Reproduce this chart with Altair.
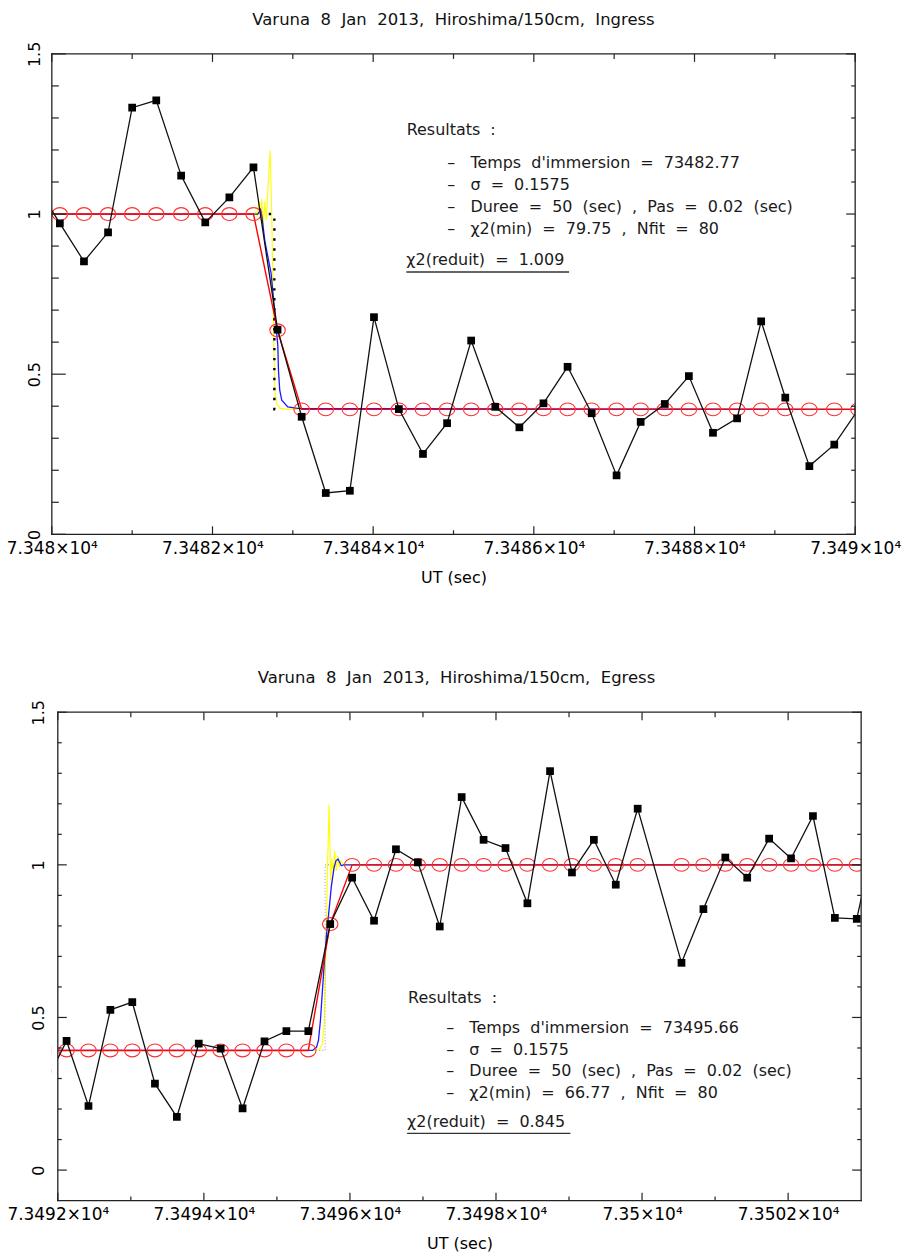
import altair as alt
import pandas as pd

FONT = "DejaVu Sans"
NB = "\u00a0"
FRAME = "#222222"

# ---------------- Ingress ----------------
ing_t = [73479.80, 73480.10, 73480.40, 73480.70, 73481.00, 73481.30, 73481.61,
         73481.91, 73482.21, 73482.51, 73482.81, 73483.11, 73483.41, 73483.71,
         73484.01, 73484.32, 73484.62, 73484.92, 73485.22, 73485.52, 73485.82,
         73486.12, 73486.42, 73486.72, 73487.03, 73487.33, 73487.63, 73487.93,
         73488.23, 73488.53, 73488.83, 73489.13, 73489.43, 73489.74, 73490.04]
ing_flux = [1.09, 0.971, 0.852, 0.943, 1.332, 1.355, 1.120, 0.974, 1.052, 1.146,
            0.639, 0.367, 0.129, 0.136, 0.678, 0.391, 0.251, 0.347, 0.605, 0.398,
            0.334, 0.409, 0.523, 0.378, 0.184, 0.351, 0.407, 0.494, 0.317, 0.362,
            0.665, 0.427, 0.213, 0.280, 0.39]
ing_model = [1.0, 1.0, 1.0, 1.0, 1.0, 1.0, 1.0, 1.0, 1.0, 1.0,
             0.637, 0.39, 0.39, 0.39, 0.39, 0.39, 0.39, 0.39, 0.39, 0.39,
             0.39, 0.39, 0.39, 0.39, 0.39, 0.39, 0.39, 0.39, 0.39, 0.39,
             0.39, 0.39, 0.39, 0.39, 0.39]
# monochromatic diffraction profile
ing_yel_t = [73480.0, 73482.50, 73482.54, 73482.558, 73482.577, 73482.596, 73482.614,
             73482.633, 73482.651, 73482.670, 73482.689, 73482.717, 73482.738,
             73482.757, 73482.775, 73482.80, 73482.837, 73482.936, 73490.0]
ing_yel_v = [1.0, 1.0, 1.008, 0.992, 1.042, 0.984, 1.048, 0.960, 1.039, 0.981, 1.073,
             1.198, 0.995, 0.699, 0.450, 0.407, 0.394, 0.39, 0.39]
# smoothed profile (bandwidth + stellar diameter)
ing_blu_t = [73480.0, 73482.565, 73482.598, 73482.614, 73482.651, 73482.730, 73482.792,
             73482.813, 73482.821, 73482.837, 73482.862, 73482.937, 73483.061, 73490.0]
ing_blu_v = [1.0, 1.0, 1.014, 0.995, 0.917, 0.814, 0.647, 0.590, 0.513, 0.450, 0.419,
             0.398, 0.393, 0.39]
# geometric square-well profile
ing_geo_t = [73482.70, 73482.77, 73482.77, 73482.85]
ing_geo_v = [1.0, 1.0, 0.39, 0.39]
ing_text = ["Resultats :",
            "Temps d'immersion = 73482.77",
            "σ = 0.1575",
            "Duree = 50 (sec) , Pas = 0.02 (sec)",
            "χ2(min) = 79.75 , Nfit = 80",
            "χ2(reduit) = 1.009"]
ing_text_t = [73484.417, 73484.922, 73484.922, 73484.922, 73484.922, 73484.413]
ing_text_v = [1.262, 1.158, 1.092, 1.021, 0.954, 0.857]
ing_uline = [73484.413, 73486.439, 0.819]

# ---------------- Egress ----------------
egr_t = [73491.82, 73492.12, 73492.42, 73492.72, 73493.02, 73493.33, 73493.63,
         73493.93, 73494.23, 73494.53, 73494.83, 73495.13, 73495.43, 73495.73,
         73496.03, 73496.33, 73496.63, 73496.93, 73497.23, 73497.53, 73497.83,
         73498.13, 73498.43, 73498.74, 73499.04, 73499.34, 73499.64, 73499.94,
         73500.54, 73500.84, 73501.14, 73501.44, 73501.74, 73502.04, 73502.34,
         73502.64, 73502.94, 73503.24]
egr_flux = [0.28, 0.423, 0.210, 0.525, 0.550, 0.283, 0.174, 0.414, 0.398, 0.202,
            0.422, 0.455, 0.455, 0.806, 0.958, 0.817, 1.051, 1.008, 0.798, 1.222,
            1.082, 1.055, 0.874, 1.307, 0.975, 1.082, 0.935, 1.184, 0.679, 0.855,
            1.024, 0.958, 1.086, 1.021, 1.160, 0.826, 0.823, 1.15]
egr_model = [0.392, 0.392, 0.392, 0.392, 0.392, 0.392, 0.392, 0.392, 0.392, 0.392,
             0.392, 0.392, 0.392, 0.806, 1.0, 1.0, 1.0, 1.0, 1.0, 1.0,
             1.0, 1.0, 1.0, 1.0, 1.0, 1.0, 1.0, 1.0, 1.0, 1.0,
             1.0, 1.0, 1.0, 1.0, 1.0, 1.0, 1.0, 1.0]
egr_yel_t = [73492.0, 73495.528, 73495.582, 73495.623, 73495.650, 73495.671, 73495.692,
             73495.715, 73495.735, 73495.753, 73495.771, 73495.791, 73495.812,
             73495.832, 73495.852, 73495.876, 73495.919, 73503.0]
egr_yel_v = [0.392, 0.392, 0.395, 0.412, 0.490, 0.719, 0.980, 1.198, 0.948, 1.020,
             0.971, 1.046, 0.980, 1.029, 0.993, 1.013, 1.0, 1.0]
egr_blu_t = [73492.0, 73495.487, 73495.542, 73495.569, 73495.596, 73495.637, 73495.678,
             73495.706, 73495.746, 73495.783, 73495.808, 73495.837, 73495.862,
             73495.882, 73495.910, 73503.0]
egr_blu_v = [0.392, 0.392, 0.402, 0.425, 0.490, 0.637, 0.768, 0.833, 0.931, 0.991,
             1.013, 1.019, 1.007, 0.997, 1.0, 1.0]
egr_geo_t = [73495.58, 73495.66, 73495.66, 73495.74]
egr_geo_v = [0.392, 0.392, 1.0, 1.0]
egr_text = ["Resultats :",
            "Temps d'immersion = 73495.66",
            "σ = 0.1575",
            "Duree = 50 (sec) , Pas = 0.02 (sec)",
            "χ2(min) = 66.77 , Nfit = 80",
            "χ2(reduit) = 0.845"]
egr_text_t = [73496.796, 73497.318, 73497.318, 73497.318, 73497.318, 73496.783]
egr_text_v = [0.564, 0.465, 0.394, 0.324, 0.254, 0.156]
egr_uline = [73496.783, 73499.019, 0.120]

# tick positions
ing_xmajor = [73480, 73482, 73484, 73486, 73488, 73490]
ing_xminor = [73481, 73483, 73485, 73487, 73489]
egr_xmajor = [73492, 73494, 73496, 73498, 73500, 73502]
egr_xminor = [73493, 73495, 73497, 73499, 73501]
ymajor = [0, 0.5, 1, 1.5]
ing_yminor = [0.1, 0.2, 0.3, 0.4, 0.6, 0.7, 0.8, 0.9, 1.1, 1.2, 1.3, 1.4]
egr_yminor = [0.1, 0.2, 0.3, 0.4, 0.6, 0.7, 0.8, 0.9, 1.1, 1.2, 1.3, 1.4]

# ellipse outline used for the fitted-model points
ELLIPSE = "M -1 0 A 1 0.83 0 1 0 1 0 A 1 0.83 0 1 0 -1 0 Z"


def spaced(s):
    return s.replace(" ", NB * 2)


def series(t, v):
    return pd.DataFrame({"t": t, "v": v, "i": list(range(len(t)))})


def panel(title, W, H, off, xdom, ydom, t, flux, model, yt, yv, bt, bv, gt, gv,
          geo_style, text, text_t, text_v, uline, xmaj, xmin_, ymin_,
          tick_left, ylabel_pad, title_offset):
    # plot frame starts `off` px inside the group so the panel can sit further right
    xs = alt.Scale(domain=xdom, range=[off, W + off], nice=False, zero=False)
    ys = alt.Scale(domain=ydom, nice=False, zero=False)
    xax = alt.Axis(values=xmaj,
                   labelExpr="format(datum.value / 10000, '.6~f') + '×10⁴'",
                   labelFont=FONT, labelFontSize=17, labelColor="black",
                   labelPadding=6, labelFlush=False, labelOverlap=False,
                   ticks=False, domain=False, grid=False,
                   title="UT (sec)", titleFont=FONT, titleFontSize=16,
                   titleFontWeight="normal", titleColor="black", titlePadding=13)
    yax = alt.Axis(values=ymajor, format="~g", labelAngle=270,
                   labelAlign="center", labelBaseline="bottom",
                   labelFont=FONT, labelFontSize=16, labelColor="black",
                   labelPadding=ylabel_pad, labelFlush=False, labelOverlap=False,
                   ticks=False, domain=False, grid=False, title=None)
    X = alt.X("t:Q", scale=xs, axis=xax)
    Y = alt.Y("v:Q", scale=ys, axis=yax)
    O = alt.Order("i:Q")

    obs = series(t, flux)
    fit = series(t, model)

    layers = [
        alt.Chart(series(yt, yv)).mark_line(color="#ffff00", strokeWidth=1.1, clip=True)
        .encode(x=X, y=Y, order=O),
        alt.Chart(series(bt, bv)).mark_line(color="#1a1aff", strokeWidth=1.3, clip=True)
        .encode(x=X, y=Y, order=O),
        alt.Chart(series(gt, gv)).mark_line(clip=True, **geo_style)
        .encode(x=X, y=Y, order=O),
        alt.Chart(fit).mark_line(color="#ff0000", strokeWidth=1.4, clip=True)
        .encode(x=X, y=Y, order=O),
        alt.Chart(fit).mark_point(shape=ELLIPSE, size=240, filled=False,
                                  stroke="#ff3030", strokeWidth=1.1, opacity=1,
                                  clip=True)
        .encode(x=X, y=Y),
        alt.Chart(obs).mark_line(color="#111111", strokeWidth=1.3, clip=True)
        .encode(x=X, y=Y, order=O),
        alt.Chart(obs).mark_point(shape="square", size=60, filled=True,
                                  color="black", opacity=1, clip=True)
        .encode(x=X, y=Y),
    ]
    if off > 0:
        # blank strip left of the frame
        layers.append(
            alt.Chart(pd.DataFrame({"k": [0]})).mark_rect(color="white")
            .encode(x=alt.value(0), x2=alt.value(off), y=alt.value(0), y2=alt.value(H)))

    dash = "–" + NB * 3
    labels = [spaced(text[0])] + [dash + spaced(s) for s in text[1:5]] + [spaced(text[5])]
    txt = pd.DataFrame({"t": text_t, "v": text_v, "label": labels})
    layers.append(
        alt.Chart(txt).mark_text(align="left", baseline="middle", font=FONT,
                                 fontSize=16, color="#1a1a1a")
        .encode(x=X, y=Y, text="label:N"))
    ul = pd.DataFrame({"t": [uline[0]], "t2": [uline[1]], "v": [uline[2]]})
    layers.append(
        alt.Chart(ul).mark_rule(color="#333333", strokeWidth=1.3)
        .encode(x=X, x2="t2:Q", y=Y))

    # frame
    fr = dict(color=FRAME, strokeWidth=1.3, strokeCap="square")
    vert = pd.DataFrame({"t": list(xdom), "v": [ydom[0]] * 2, "v2": [ydom[1]] * 2})
    horiz = pd.DataFrame({"t": [xdom[0]] * 2, "t2": [xdom[1]] * 2, "v": list(ydom)})
    layers += [
        alt.Chart(vert).mark_rule(**fr).encode(x=X, y=Y, y2="v2:Q"),
        alt.Chart(horiz).mark_rule(**fr).encode(x=X, x2="t2:Q", y=Y),
    ]

    # inward ticks on all four sides
    tick = dict(color=FRAME, strokeWidth=1.2)
    mj_l, mn_l = tick_left
    xM = pd.DataFrame({"t": xmaj})
    xm = pd.DataFrame({"t": xmin_})
    yM = pd.DataFrame({"v": ymajor})
    ym = pd.DataFrame({"v": ymin_})
    R = W + off
    layers += [
        alt.Chart(xM).mark_rule(**tick).encode(x=X, y=alt.value(H), y2=alt.value(H - 8)),
        alt.Chart(xm).mark_rule(**tick).encode(x=X, y=alt.value(H), y2=alt.value(H - 4)),
        alt.Chart(xM).mark_rule(**tick).encode(x=X, y=alt.value(0), y2=alt.value(8)),
        alt.Chart(xm).mark_rule(**tick).encode(x=X, y=alt.value(0), y2=alt.value(5)),
        alt.Chart(yM).mark_rule(**tick).encode(y=Y, x=alt.value(off), x2=alt.value(off + mj_l)),
        alt.Chart(ym).mark_rule(**tick).encode(y=Y, x=alt.value(off), x2=alt.value(off + mn_l)),
        alt.Chart(yM).mark_rule(**tick).encode(y=Y, x=alt.value(R), x2=alt.value(R - 9)),
        alt.Chart(ym).mark_rule(**tick).encode(y=Y, x=alt.value(R), x2=alt.value(R - 4)),
    ]

    return alt.layer(*layers).properties(
        width=W + off, height=H,
        title=alt.TitleParams(text=spaced(title), font=FONT, fontSize=16.5,
                              fontWeight="normal", color="#111111",
                              anchor="middle", frame="group", offset=title_offset),
    )


top = panel("Varuna 8 Jan 2013, Hiroshima/150cm, Ingress", 806, 482, 0,
            [73480, 73490], [0, 1.5], ing_t, ing_flux, ing_model,
            ing_yel_t, ing_yel_v, ing_blu_t, ing_blu_v, ing_geo_t, ing_geo_v,
            dict(color="black", strokeWidth=2.4, strokeDash=[2.4, 7.6]),
            ing_text, ing_text_t, ing_text_v, ing_uline,
            ing_xmajor, ing_xminor, ing_yminor, (14, 7), 9, 13)

bottom = panel("Varuna 8 Jan 2013, Hiroshima/150cm, Egress", 806, 490, 6,
               [73492, 73503], [-0.1, 1.5], egr_t, egr_flux, egr_model,
               egr_yel_t, egr_yel_v, egr_blu_t, egr_blu_v, egr_geo_t, egr_geo_v,
               dict(color="#9a9a9a", strokeWidth=1, strokeDash=[1, 2]),
               egr_text, egr_text_t, egr_text_v, egr_uline,
               egr_xmajor, egr_xminor, egr_yminor, (9, 4), 5, 13.5)

chart = alt.concat(top, bottom, columns=1, spacing=82.5).properties(
    padding={"left": 5, "top": 9, "right": 5, "bottom": 5},
    background="white",
).configure_view(stroke="transparent")

chart.save("out.html", embed_options={"renderer": "svg", "actions": False})
